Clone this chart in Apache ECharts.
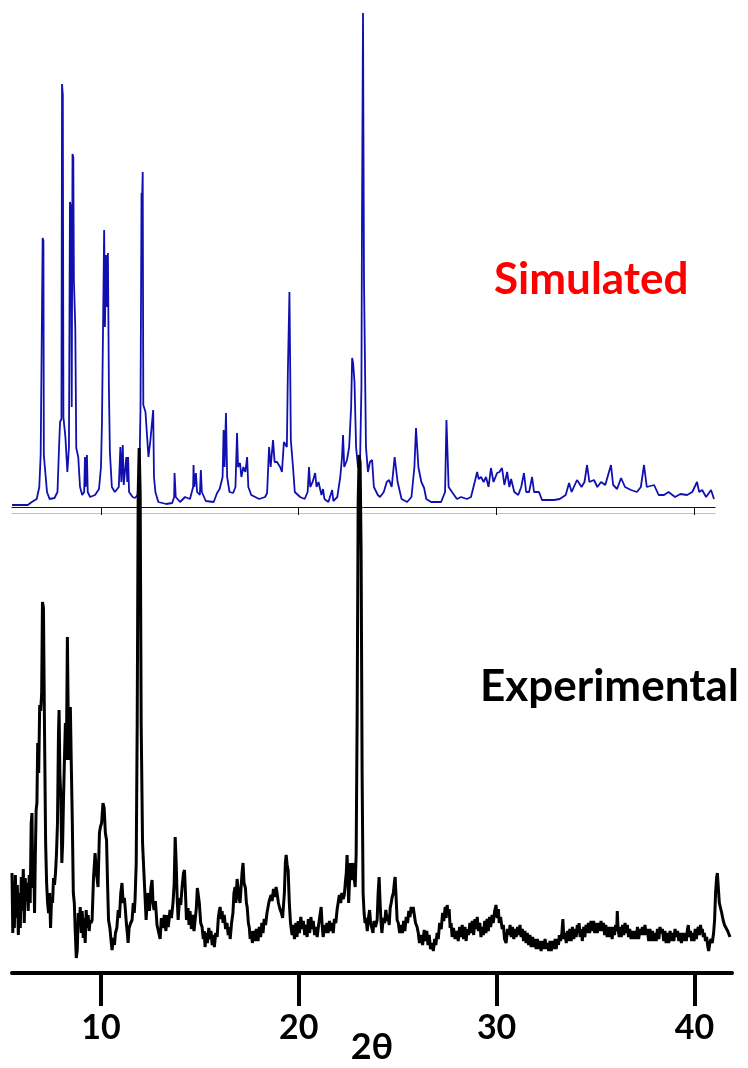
<!DOCTYPE html>
<html>
<head>
<meta charset="utf-8">
<title>PXRD simulated vs experimental</title>
<script src="https://cdn.jsdelivr.net/npm/echarts@6/dist/echarts.min.js"></script>
<style>
  html, body { margin: 0; padding: 0; background: #fff; }
  #chart { width: 748px; height: 1068px; }
</style>
</head>
<body>
<div id="chart"></div>
<script>
// 2theta ticks shared by both patterns
var tickValues = [10, 20, 30, 40];

// simulated pattern [2theta, intensity]
var simPattern = [
  [5.5,2],[6.3,2],[6.5,5],[6.75,8],[6.88,20],[6.95,52],[7.03,52],[7.05,269],[7.09,266],[7.11,52],[7.2,50],[7.27,15],[7.4,8],[7.65,9],[7.8,15],
  [7.88,60],[7.93,85],[8.0,88],[8.03,423],[8.07,412],[8.1,90],[8.2,70],[8.3,35],[8.38,60],[8.43,305],[8.48,300],[8.52,100],[8.56,353],[8.6,350],[8.63,227],[8.7,180],[8.75,59],[8.85,50],[8.94,20],
  [9.05,12],[9.15,15],[9.19,50],[9.22,20],[9.29,52],[9.33,15],[9.45,10],[9.7,12],[9.9,18],[10.0,40],[10.05,85],[10.12,85],[10.16,277],[10.2,180],[10.25,252],[10.3,200],[10.35,254],[10.4,120],[10.45,55],[10.55,20],[10.7,15],
  [10.9,20],[10.98,60],[11.03,25],[11.1,62],[11.15,22],[11.28,50],[11.33,25],[11.37,50],[11.42,15],[11.6,10],[11.72,9],[11.85,12],[11.95,40],[12.0,102],[12.05,314],[12.08,310],[12.11,335],[12.14,102],[12.25,95],[12.31,95],[12.4,50],[12.5,67],[12.58,67],[12.64,97],[12.68,30],[12.75,15],[12.9,5],
  [13.3,3],[13.6,4],[13.7,10],[13.72,34],[13.78,10],[14.0,5],[14.25,10],[14.5,8],[14.66,20],[14.68,42],[14.72,20],[14.8,34],[14.86,15],[15.0,12],[15.05,37],[15.1,15],[15.3,6],[15.7,5],[15.87,14],[16.0,18],
  [16.15,30],[16.2,77],[16.25,40],[16.32,94],[16.38,30],[16.5,15],[16.68,14],[16.8,20],[16.88,74],[16.93,40],[17.03,44],[17.1,30],[17.2,40],[17.3,35],[17.39,50],[17.45,20],[17.6,12],[17.69,10],[18.0,8],[18.3,10],
  [18.4,14],[18.5,60],[18.58,40],[18.7,67],[18.78,45],[18.9,45],[19.06,40],[19.15,35],[19.25,65],[19.31,67],[19.4,60],[19.45,135],[19.5,135],[19.53,215],[19.57,135],[19.6,67],[19.71,40],[19.8,15],[20.07,10],
  [20.3,8],[20.45,15],[20.52,40],[20.58,20],[20.7,25],[20.83,34],[20.9,20],[21.0,25],[21.08,25],[21.15,12],[21.23,18],[21.3,8],[21.5,5],[21.69,17],[21.75,6],[21.95,10],
  [22.1,30],[22.19,50],[22.24,72],[22.3,40],[22.44,47],[22.55,60],[22.65,100],[22.7,149],[22.75,144],[22.82,125],[22.9,60],[23.0,39],[23.1,45],[23.17,120],[23.2,290],[23.25,494],[23.3,227],[23.35,227],[23.4,60],[23.5,35],[23.6,45],[23.71,47],[23.8,20],
  [24.0,12],[24.11,10],[24.3,15],[24.45,25],[24.57,27],[24.7,20],[24.85,50],[24.92,52],[25.0,25],[25.2,8],[25.48,5],[25.7,10],[25.85,40],[25.93,79],[25.98,77],[26.05,40],[26.2,25],[26.34,19],[26.45,8],[26.69,5],
  [27.2,5],[27.4,15],[27.47,87],[27.52,87],[27.58,20],[27.75,15],[27.85,15],[28.0,8],[28.21,10],[28.5,8],[28.71,10],[28.9,25],[29.02,35],[29.1,28],[29.22,30],[29.35,25],[29.47,30],[29.6,20],[29.72,39],[29.85,25],
  [30.03,34],[30.15,35],[30.28,39],[30.4,22],[30.54,35],[30.65,20],[30.74,28],[30.9,15],[31.1,12],[31.25,20],[31.39,34],[31.5,15],[31.65,15],[31.8,30],[31.9,15],[32.15,15],[32.3,7],[32.51,7],[32.91,7],
  [33.2,8],[33.5,12],[33.67,24],[33.8,15],[34.07,27],[34.3,20],[34.45,25],[34.58,42],[34.7,25],[34.93,27],[35.1,20],[35.29,25],[35.5,22],[35.79,42],[35.9,22],[36.1,18],[36.3,29],[36.5,20],[36.8,17],
  [37.1,15],[37.3,20],[37.46,42],[37.6,20],[37.97,22],[38.2,12],[38.47,12],[38.7,15],[39.03,10],[39.3,13],[39.64,12],[39.9,15],[40.14,25],[40.25,15],[40.4,17],[40.6,10],[40.85,17],[41.0,8]
];

// experimental pattern [2theta, intensity]
var expPattern = [
  [5.5,100],[5.54,40],[5.58,92],[5.62,45],[5.67,98],[5.72,55],[5.77,88],[5.82,38],[5.87,80],[5.92,45],[5.97,96],[6.02,62],[6.07,104],[6.12,50],[6.17,95],[6.22,72],[6.27,90],[6.32,62],[6.37,98],[6.42,70],
  [6.47,150],[6.51,160],[6.55,85],[6.6,112],[6.64,60],[6.68,118],[6.72,163],[6.76,170],[6.8,230],[6.85,200],[6.9,268],[6.95,262],[7.0,280],[7.04,371],[7.09,365],[7.14,250],[7.2,130],[7.25,90],[7.3,70],[7.35,60],
  [7.4,80],[7.45,45],[7.5,75],[7.55,70],[7.6,95],[7.65,88],[7.7,100],[7.75,120],[7.8,150],[7.85,240],[7.88,263],[7.92,200],[7.97,176],[8.02,110],[8.06,130],[8.1,170],[8.15,213],[8.2,250],[8.25,213],[8.3,336],
  [8.35,240],[8.4,213],[8.45,266],[8.5,206],[8.55,150],[8.6,80],[8.65,70],[8.7,40],[8.75,15],[8.8,23],[8.85,60],[8.9,48],[8.95,66],[9.0,40],[9.05,62],[9.1,35],[9.15,55],[9.2,30],[9.25,63],[9.3,45],
  [9.35,58],[9.4,42],[9.45,53],[9.5,50],[9.55,53],[9.62,95],[9.7,120],[9.77,100],[9.85,86],[9.92,140],[9.97,146],[10.03,150],[10.1,170],[10.16,165],[10.22,140],[10.28,133],[10.33,90],[10.38,53],[10.45,45],[10.52,30],
  [10.56,23],[10.62,35],[10.68,28],[10.73,40],[10.8,45],[10.87,63],[10.93,55],[11.0,80],[11.06,90],[11.12,70],[11.18,75],[11.22,66],[11.28,50],[11.33,40],[11.37,30],[11.42,45],[11.5,50],[11.57,53],[11.63,70],[11.68,60],
  [11.72,73],[11.78,110],[11.83,250],[11.88,480],[11.93,525],[11.98,480],[12.03,250],[12.1,130],[12.17,100],[12.23,100],[12.28,53],[12.33,70],[12.38,80],[12.45,62],[12.52,85],[12.58,93],[12.63,70],[12.68,63],[12.75,72],[12.83,48],
  [12.9,50],[12.99,34],[13.05,55],[13.12,45],[13.2,58],[13.28,42],[13.34,58],[13.4,46],[13.49,63],[13.56,55],[13.64,70],[13.7,90],[13.75,136],[13.8,110],[13.85,75],[13.9,53],[13.97,75],[14.03,68],[14.1,86],[14.17,100],
  [14.22,103],[14.27,80],[14.32,53],[14.4,65],[14.45,48],[14.5,62],[14.57,44],[14.63,58],[14.7,42],[14.76,43],[14.82,65],[14.87,85],[14.91,83],[14.97,70],[15.04,50],[15.11,46],[15.17,34],[15.22,42],[15.26,26],[15.32,40],
  [15.38,30],[15.45,45],[15.51,34],[15.56,42],[15.62,28],[15.67,38],[15.73,26],[15.8,40],[15.87,36],[15.93,55],[15.98,62],[16.02,66],[16.08,54],[16.12,62],[16.17,50],[16.23,58],[16.3,44],[16.37,50],[16.43,38],[16.48,46],
  [16.53,34],[16.6,50],[16.67,60],[16.72,80],[16.78,86],[16.82,70],[16.88,94],[16.93,96],[16.98,75],[17.03,70],[17.08,85],[17.13,100],[17.18,110],[17.23,90],[17.3,85],[17.35,70],[17.39,66],[17.45,50],[17.5,45],[17.54,34],
  [17.6,42],[17.65,30],[17.72,42],[17.78,32],[17.85,44],[17.94,32],[18.0,46],[18.07,36],[18.13,50],[18.19,40],[18.25,54],[18.32,48],[18.39,60],[18.45,58],[18.5,72],[18.55,70],[18.6,78],[18.65,72],[18.72,84],[18.8,76],
  [18.85,86],[18.9,80],[18.97,70],[19.06,63],[19.12,60],[19.18,55],[19.21,56],[19.27,80],[19.32,110],[19.36,118],[19.41,108],[19.46,103],[19.52,70],[19.58,50],[19.66,38],[19.72,48],[19.78,34],[19.85,50],[19.91,36],[19.97,52],
  [20.03,40],[20.1,56],[20.17,44],[20.23,52],[20.3,38],[20.36,48],[20.42,36],[20.48,54],[20.55,40],[20.61,56],[20.67,44],[20.73,52],[20.8,38],[20.87,46],[20.93,36],[21.0,48],[21.06,46],[21.13,66],[21.18,48],[21.23,36],
  [21.3,48],[21.36,40],[21.42,50],[21.48,40],[21.55,52],[21.62,42],[21.68,50],[21.74,40],[21.8,54],[21.87,50],[21.94,64],[22.0,66],[22.05,78],[22.12,70],[22.17,80],[22.24,74],[22.3,78],[22.35,90],[22.4,100],[22.44,118],
  [22.48,95],[22.52,70],[22.56,90],[22.6,110],[22.65,93],[22.7,100],[22.75,110],[22.8,95],[22.85,86],[22.9,120],[22.95,260],[23.0,470],[23.05,518],[23.1,510],[23.15,420],[23.2,200],[23.25,80],[23.3,60],[23.35,50],[23.4,55],
  [23.46,42],[23.52,55],[23.58,63],[23.63,50],[23.7,48],[23.75,40],[23.8,52],[23.88,46],[23.96,53],[24.01,80],[24.06,96],[24.11,70],[24.16,50],[24.2,40],[24.27,55],[24.34,50],[24.4,63],[24.46,52],[24.52,58],[24.57,48],
  [24.62,65],[24.67,70],[24.72,76],[24.78,80],[24.83,90],[24.87,96],[24.92,75],[24.97,53],[25.03,50],[25.1,40],[25.17,48],[25.24,40],[25.3,52],[25.36,42],[25.43,56],[25.5,50],[25.56,62],[25.62,56],[25.68,66],[25.73,60],
  [25.78,66],[25.84,58],[25.9,50],[25.98,46],[26.04,40],[26.1,30],[26.19,38],[26.26,28],[26.34,43],[26.4,32],[26.47,42],[26.53,28],[26.59,38],[26.66,24],[26.74,30],[26.8,22],[26.87,34],[26.93,28],[26.99,40],[27.05,34],
  [27.12,50],[27.2,44],[27.27,60],[27.33,52],[27.4,66],[27.45,55],[27.5,68],[27.55,58],[27.6,64],[27.65,45],[27.7,50],[27.75,36],[27.82,45],[27.9,34],[28.0,42],[28.06,32],[28.13,46],[28.2,36],[28.26,48],[28.33,34],
  [28.4,46],[28.46,32],[28.51,44],[28.58,38],[28.65,50],[28.71,40],[28.77,52],[28.84,38],[28.9,54],[28.96,44],[29.02,56],[29.08,42],[29.15,50],[29.21,36],[29.27,46],[29.33,38],[29.4,52],[29.46,40],[29.52,54],[29.58,42],
  [29.64,56],[29.7,46],[29.77,58],[29.83,50],[29.9,62],[29.97,68],[30.03,55],[30.09,64],[30.13,50],[30.2,56],[30.28,44],[30.34,48],[30.4,34],[30.48,30],[30.55,44],[30.62,38],[30.68,48],[30.74,36],[30.8,46],[30.87,34],
  [30.93,44],[30.99,36],[31.06,46],[31.12,38],[31.18,48],[31.24,36],[31.3,44],[31.36,32],[31.43,42],[31.49,30],[31.55,40],[31.62,28],[31.68,38],[31.75,26],[31.82,36],[31.88,26],[31.94,34],[32.0,24],[32.06,34],[32.12,24],
  [32.19,32],[32.25,22],[32.32,32],[32.38,24],[32.45,34],[32.51,24],[32.57,30],[32.63,22],[32.7,32],[32.76,22],[32.83,32],[32.9,24],[32.96,34],[33.01,24],[33.08,34],[33.13,28],[33.17,38],[33.23,32],[33.3,40],[33.35,54],
  [33.4,34],[33.46,40],[33.52,30],[33.58,42],[33.64,32],[33.7,44],[33.77,32],[33.83,46],[33.9,34],[33.96,44],[34.02,36],[34.08,48],[34.13,40],[34.17,50],[34.22,36],[34.28,44],[34.33,32],[34.4,46],[34.46,36],[34.52,48],
  [34.58,40],[34.64,50],[34.7,40],[34.77,52],[34.83,42],[34.9,52],[34.96,40],[35.02,50],[35.09,40],[35.15,50],[35.21,42],[35.28,52],[35.34,42],[35.4,50],[35.46,38],[35.52,48],[35.59,36],[35.65,46],[35.71,36],[35.78,46],
  [35.84,34],[35.9,46],[35.96,38],[36.02,48],[36.07,42],[36.1,62],[36.14,44],[36.2,36],[36.25,46],[36.3,36],[36.37,48],[36.43,38],[36.49,50],[36.55,40],[36.61,48],[36.67,36],[36.73,44],[36.8,34],[36.87,42],[36.93,34],
  [37.0,42],[37.06,34],[37.12,46],[37.18,34],[37.25,44],[37.31,38],[37.37,46],[37.43,38],[37.5,48],[37.56,38],[37.62,44],[37.69,32],[37.75,44],[37.82,32],[37.88,42],[37.95,32],[38.01,40],[38.07,32],[38.13,44],[38.2,34],
  [38.26,46],[38.32,40],[38.38,44],[38.45,32],[38.51,42],[38.57,30],[38.63,40],[38.7,30],[38.77,42],[38.83,32],[38.9,40],[38.96,32],[39.02,44],[39.08,36],[39.15,42],[39.21,32],[39.28,40],[39.34,30],[39.4,40],[39.47,32],
  [39.53,40],[39.59,32],[39.65,44],[39.69,48],[39.74,36],[39.8,42],[39.86,32],[39.92,40],[39.98,32],[40.04,44],[40.1,34],[40.14,42],[40.2,46],[40.26,38],[40.31,48],[40.35,40],[40.4,44],[40.45,36],[40.5,40],[40.56,32],
  [40.62,36],[40.68,26],[40.72,22],[40.78,30],[40.84,34],[40.9,30],[40.97,40],[41.02,53],[41.07,80],[41.12,95],[41.16,100],[41.21,85],[41.26,70],[41.32,72],[41.38,60],[41.45,53],[41.52,48],[41.6,46],[41.68,42],[41.75,40],[41.8,36]
];

var labelFont = 'Lato';

var chart = echarts.init(document.getElementById('chart'));

var option = {
  animation: false,
  backgroundColor: '#fff',
  grid: [
    // simulated
    { left: 12, right: 33, top: 7, bottom: 561, outerBoundsMode: 'none' },
    // experimental
    { left: 12, right: 16, top: 440, bottom: 95, outerBoundsMode: 'none' },
    // pink guide line under the simulated axis
    { left: 12, right: 33, top: 512, height: 1, outerBoundsMode: 'none' }
  ],
  xAxis: [
    {
      gridIndex: 0, type: 'value', min: 5.5, max: 41.05,
      splitLine: { show: false },
      axisLine: { lineStyle: { color: '#111', width: 1 } },
      axisTick: { customValues: tickValues, length: 8, lineStyle: { color: '#111', width: 1 } },
      axisLabel: { show: false }
    },
    {
      gridIndex: 1, type: 'value', min: 5.5, max: 41.9,
      splitLine: { show: false },
      axisLine: { lineStyle: { color: '#000', width: 4 } },
      axisTick: { customValues: tickValues, length: 33, lineStyle: { color: '#000', width: 4 } },
      axisLabel: {
        customValues: tickValues, margin: 38,
        color: '#000', fontFamily: labelFont, fontWeight: 'bold', fontSize: 34
      },
      name: '2θ', nameLocation: 'middle', nameGap: 56, nameMoveOverlap: false,
      nameTextStyle: { color: '#000', fontFamily: labelFont, fontWeight: 'bold', fontSize: 36 }
    },
    {
      gridIndex: 2, type: 'value', min: 5.5, max: 41.05,
      splitLine: { show: false },
      axisLine: { lineStyle: { color: '#e6a6e6', width: 1 } },
      axisTick: { show: false },
      axisLabel: { show: false }
    }
  ],
  yAxis: [
    { gridIndex: 0, type: 'value', min: 0, max: 500, show: false },
    { gridIndex: 1, type: 'value', min: 0, max: 533, show: false },
    { gridIndex: 2, type: 'value', min: 0, max: 1, show: false }
  ],
  series: [
    {
      name: 'Simulated', type: 'line', xAxisIndex: 0, yAxisIndex: 0,
      data: simPattern, showSymbol: false, silent: true,
      lineStyle: { color: '#1010b0', width: 1.8 }
    },
    {
      name: 'Experimental', type: 'line', xAxisIndex: 1, yAxisIndex: 1,
      data: expPattern, showSymbol: false, silent: true, clip: false,
      lineStyle: { color: '#000', width: 3 }
    }
  ],
  graphic: [
    {
      type: 'text', left: 494, top: 258,
      style: { text: 'Simulated', fill: '#ff0000', font: 'bold 44px ' + labelFont }
    },
    {
      type: 'text', left: 480, top: 665,
      style: { text: 'Experimental', fill: '#000', font: 'bold 44px ' + labelFont }
    }
  ]
};

chart.setOption(option);
</script>
</body>
</html>
